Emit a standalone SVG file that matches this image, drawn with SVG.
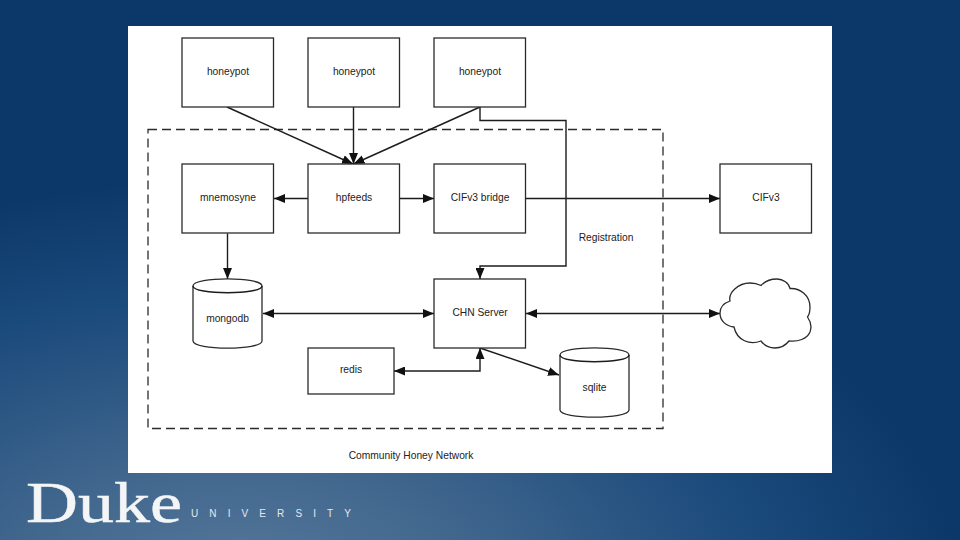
<svg xmlns="http://www.w3.org/2000/svg" width="960" height="540" viewBox="0 0 960 540">
<defs>
<radialGradient id="glow" gradientUnits="userSpaceOnUse" cx="0" cy="0" r="1" gradientTransform="translate(240 600) scale(720 420)">
<stop offset="0" stop-color="#587a9c"/><stop offset="0.3" stop-color="#44698f"/><stop offset="0.72" stop-color="#1b4a7c"/><stop offset="1" stop-color="#0c3869"/>
</radialGradient>
<marker id="a" viewBox="0 0 11 9" refX="11" refY="4.500" markerWidth="11" markerHeight="9" markerUnits="userSpaceOnUse" orient="auto-start-reverse"><path d="M0 0L11 4.500L0 9z" fill="#111"/></marker>
</defs>
<style>
.n{fill:#fff;stroke:#2b2b2b;stroke-width:1.3}
.c{fill:none;stroke:#1c1c1c;stroke-width:1.4}
.c2{fill:none;stroke:#1c1c1c;stroke-width:1.4;marker-end:url(#a)}
.c3{fill:none;stroke:#1c1c1c;stroke-width:1.4;marker-start:url(#a);marker-end:url(#a)}
text{font-family:"Liberation Sans",Arial,sans-serif;font-size:10.25px;fill:#222;text-anchor:middle}
</style>
<rect width="960" height="540" fill="url(#glow)"/>
<rect x="128" y="26" width="704" height="447" fill="#fff"/>
<rect id="boundary" x="148" y="129.500" width="515" height="299" fill="none" stroke="#2b2b2b" stroke-width="1.3" stroke-dasharray="9 5"/>
<g id="connectors">
<path class="c2" d="M227 107L353 164"/>
<path class="c2" d="M353.500 107V164"/>
<path class="c2" d="M480 107L353.500 164"/>
<path class="c2" d="M480 107V120.500H566V266H480V279"/>
<path class="c2" d="M308 198.500H274"/>
<path class="c2" d="M400 198.500H434"/>
<path class="c2" d="M526 198.500H720"/>
<path class="c2" d="M227.500 233.500V279"/>
<path class="c3" d="M263 313.500H434"/>
<path class="c3" d="M526 313.500H720"/>
<path class="c3" d="M394 371H480V348"/>
<path class="c2" d="M480 348L559 375"/>
</g>
<g id="honeypot1"><rect class="n" x="182" y="38" width="91.500" height="69"/><text x="228" y="75">honeypot</text></g>
<g id="honeypot2"><rect class="n" x="308" y="38" width="91.500" height="69"/><text x="354" y="75">honeypot</text></g>
<g id="honeypot3"><rect class="n" x="434" y="38" width="91.500" height="69"/><text x="480" y="75">honeypot</text></g>
<g id="mnemosyne"><rect class="n" x="182" y="164" width="91.500" height="69"/><text x="228" y="201">mnemosyne</text></g>
<g id="hpfeeds"><rect class="n" x="308" y="164" width="91.500" height="69"/><text x="354" y="201">hpfeeds</text></g>
<g id="bridge"><rect class="n" x="434" y="164" width="91.500" height="69"/><text x="480" y="201">CIFv3 bridge</text></g>
<g id="cifv3"><rect class="n" x="720" y="164" width="91.500" height="69"/><text x="766" y="201">CIFv3</text></g>
<g id="chn"><rect class="n" x="434" y="279" width="91.500" height="69"/><text x="480" y="316">CHN Server</text></g>
<g id="redis"><rect class="n" x="308" y="348" width="86" height="46"/><text x="351" y="373">redis</text></g>
<g id="mongodb"><path class="n" d="M193 286C193 276.500 262 276.500 262 286V341C262 350.500 193 350.500 193 341Z"/><path class="c" d="M193 286C193 295 262 295 262 286"/><text x="227.500" y="322">mongodb</text></g>
<g id="sqlite"><path class="n" d="M560 355C560 345.500 629 345.500 629 355V410C629 419.500 560 419.500 560 410Z"/><path class="c" d="M560 355C560 364 629 364 629 355"/><text x="594.500" y="391">sqlite</text></g>
<g id="cloud"><path class="n" d="M720 313C720 307 724 303 730 301C728 293 738 283 750 283C754 283 758 284 761 285.500C766 280 772 279 777 279C783 279 789 283 790 288.500C801 288 810 296 810 307C810 311 809 315 807.500 317C811 322 811.500 328 810 332C807 339 798 342 789 341C785 346 780 348 775 348C769 348 764 345 761 341C750 345 737 341 734 327C726 326 720 321 720 313Z"/></g>
<text x="606" y="241">Registration</text>
<text x="411" y="459">Community Honey Network</text>
<g id="logo">
<text x="26" y="522" textLength="156" lengthAdjust="spacingAndGlyphs" style="font-family:'Liberation Serif',serif;font-size:58px;fill:#f4f5f6;stroke:#f4f5f6;stroke-width:0.5;text-anchor:start">Duke</text>
<text x="191" y="517" style="font-size:10px;fill:#e4e8ee;letter-spacing:11.100px;text-anchor:start">UNIVERSITY</text>
</g>
</svg>
